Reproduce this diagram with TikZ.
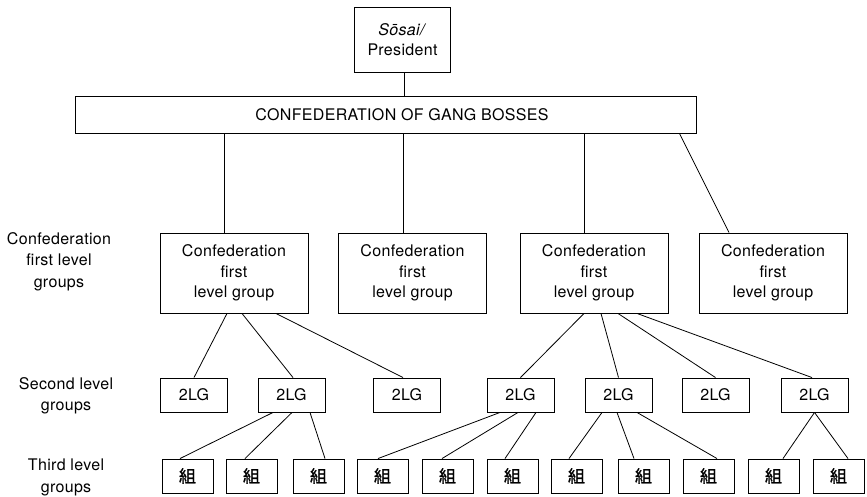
\documentclass[tikz,border=0pt]{standalone}
\usepackage{fontspec}
\setmainfont[LetterSpace=2]{TeX Gyre Heros}
\newfontfamily\cjk[FakeBold=1.2]{Noto Sans CJK JP}
\usetikzlibrary{positioning}

\tikzset{
    box/.style={rectangle, draw=black, line width=0.9pt, inner sep=0pt, align=center, font=\fontsize{16}{20.5}\selectfont},
    topbox/.style={box, minimum width=96pt, minimum height=65pt, font=\fontsize{16}{20}\selectfont},
    bossbox/.style={box, minimum width=621pt, minimum height=37pt},
    flgbox/.style={box, minimum width=148pt, minimum height=80pt},
    slgbox/.style={box, minimum width=67pt, minimum height=34pt},
    kumibox/.style={box, minimum width=51pt, minimum height=34pt, font=\fontsize{17}{20}\selectfont\cjk},
    rowlabel/.style={align=center, font=\fontsize{16}{21.5}\selectfont},
    link/.style={line width=0.8pt}
}

\begin{document}
\begin{tikzpicture}[x=1pt, y=-1pt]
    \useasboundingbox (0,0) rectangle (867,497);

    % top of the hierarchy
    \node [topbox] (pres) at (402.5,39.5) {\textit{Sōsai/}\\President};
    \node [bossbox] (bosses) at (385.5,114.5) {\hspace*{33pt}CONFEDERATION OF GANG BOSSES};

    % row labels
    \node [rowlabel] (lab1) at (59,261.5) {Confederation\\first level\\groups};
    \node [rowlabel] (lab2) at (66,396) {Second level\\groups};
    \node [rowlabel] (lab3) at (66,477.5) {Third level\\groups};

    % first level groups
    \node [flgbox] (flg1) at (234,273) {Confederation\\first\\level group};
    \node [flgbox] (flg2) at (412.5,273) {Confederation\\first\\level group};
    \node [flgbox] (flg3) at (594,273) {Confederation\\first\\level group};
    \node [flgbox] (flg4) at (773,273) {Confederation\\first\\level group};

    % second level groups
    \node [slgbox] (slg1) at (194,395) {2LG};
    \node [slgbox] (slg2) at (291.5,395) {2LG};
    \node [slgbox] (slg3) at (407,395) {2LG};
    \node [slgbox] (slg4) at (520.5,395) {2LG};
    \node [slgbox] (slg5) at (618.5,395) {2LG};
    \node [slgbox] (slg6) at (715.5,395) {2LG};
    \node [slgbox] (slg7) at (814.5,395) {2LG};

    % third level groups
    \node [kumibox] (kumi1) at (187.5,476) {組};
    \node [kumibox] (kumi2) at (251.5,476) {組};
    \node [kumibox] (kumi3) at (318.5,476) {組};
    \node [kumibox] (kumi4) at (382.5,476) {組};
    \node [kumibox] (kumi5) at (447.5,476) {組};
    \node [kumibox] (kumi6) at (512.5,476) {組};
    \node [kumibox] (kumi7) at (576.5,476) {組};
    \node [kumibox] (kumi8) at (643.5,476) {組};
    \node [kumibox] (kumi9) at (708.5,476) {組};
    \node [kumibox] (kumi10) at (773.5,476) {組};
    \node [kumibox] (kumi11) at (838.5,476) {組};

    % president to confederation
    \draw [link] ([xshift=1.5pt]pres.south) -- ([xshift=1.5pt]pres.south |- bosses.north);

    % confederation to first level
    \draw [link] ([xshift=-10pt]flg1.north |- bosses.south) -- ([xshift=-10pt]flg1.north);
    \draw [link] ([xshift=-9pt]flg2.north |- bosses.south) -- ([xshift=-9pt]flg2.north);
    \draw [link] ([xshift=-10pt]flg3.north |- bosses.south) -- ([xshift=-10pt]flg3.north);
    \draw [link] ([xshift=-17pt]bosses.south east) -- ([xshift=-44pt]flg4.north);

    % first level to second level
    \draw [link] ([xshift=-7pt]flg1.south) -- (slg1.north);
    \draw [link] ([xshift=8pt]flg1.south) -- ([xshift=1.5pt]slg2.north);
    \draw [link] ([xshift=42pt]flg1.south) -- ([xshift=-4pt]slg3.north);
    \draw [link] ([xshift=-10pt]flg3.south) -- (slg4.north);
    \draw [link] ([xshift=7pt]flg3.south) -- (slg5.north);
    \draw [link] ([xshift=24pt]flg3.south) -- (slg6.north);
    \draw [link] ([xshift=43pt]flg3.south) -- ([xshift=-2.5pt]slg7.north);

    % second level to third level
    \draw [link] ([xshift=-18.5pt]slg2.south) -- ([xshift=-7.5pt]kumi1.north);
    \draw [link] ([xshift=0.5pt]slg2.south) -- ([xshift=-6.5pt]kumi2.north);
    \draw [link] ([xshift=18.5pt]slg2.south) -- ([xshift=6.5pt]kumi3.north);
    \draw [link] ([xshift=-20.5pt]slg4.south) -- ([xshift=-4.5pt]kumi4.north);
    \draw [link] ([xshift=-2.5pt]slg4.south) -- ([xshift=-5.5pt]kumi5.north);
    \draw [link] ([xshift=15.5pt]slg4.south) -- ([xshift=-7.5pt]kumi6.north);
    \draw [link] ([xshift=-16.5pt]slg5.south) -- ([xshift=-7.5pt]kumi7.north);
    \draw [link] ([xshift=-1.5pt]slg5.south) -- ([xshift=-9.5pt]kumi8.north);
    \draw [link] ([xshift=18.5pt]slg5.south) -- ([xshift=8.5pt]kumi9.north);
    \draw [link] (slg7.south) -- ([xshift=9.5pt]kumi10.north);
    \draw [link] (slg7.south) -- ([xshift=9.5pt]kumi11.north);
\end{tikzpicture}
\end{document}
